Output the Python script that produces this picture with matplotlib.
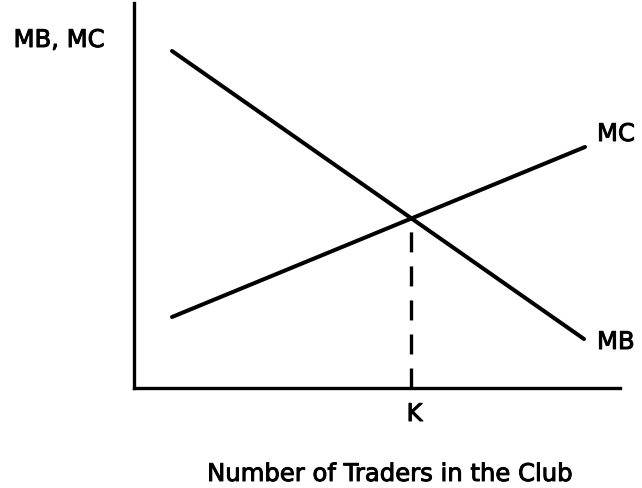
import matplotlib

matplotlib.use('Agg')
import matplotlib.pyplot as plt
import matplotlib.patheffects as pe

# --- data (axis units, origin at the corner of the axes) ---
mb_x = [38, 450]
mb_y = [337, 49]
mc_x = [38, 451]
mc_y = [71, 241]
curve_names = ['MB', 'MC']

W, H = 642, 489
AX_L, AX_R, AX_T, AX_B = 134, 620, 4, 389

plt.rcParams['font.family'] = ['DejaVu Sans']
plt.rcParams['lines.scale_dashes'] = False

fig = plt.figure(figsize=(W / 100, H / 100), dpi=100)
ax = fig.add_axes([AX_L / W, 1 - AX_B / H, (AX_R - AX_L) / W, (AX_B - AX_T) / H])
ax.set_xlim(0, AX_R - AX_L)
ax.set_ylim(0, AX_B - AX_T)

ax.plot(mb_x, mb_y, color='black', linewidth=2.9, solid_capstyle='round', clip_on=False)
ax.plot(mc_x, mc_y, color='black', linewidth=2.9, solid_capstyle='round', clip_on=False)

# intersection of the two straight lines -> K
s_mb = (mb_y[1] - mb_y[0]) / (mb_x[1] - mb_x[0])
s_mc = (mc_y[1] - mc_y[0]) / (mc_x[1] - mc_x[0])
xk = (mc_y[0] - mb_y[0] + s_mb * mb_x[0] - s_mc * mc_x[0]) / (s_mb - s_mc)
yk = mb_y[0] + s_mb * (xk - mb_x[0])
ax.plot([xk, xk], [0, yk - 11], color='black', linewidth=2.4,
        dashes=(14.4, 10.1), dash_capstyle='butt', clip_on=False)

for side in ['top', 'right']:
    ax.spines[side].set_visible(False)
for side in ['left', 'bottom']:
    ax.spines[side].set_linewidth(2.4)
    ax.spines[side].set_color('black')
ax.set_xticks([])
ax.set_yticks([])

heavy = [pe.withStroke(linewidth=0.7, foreground='black')]


def px_text(x, y, s, ha='left'):
    fig.text(x / W, 1 - y / H, s, ha=ha, va='baseline', fontsize=17.5,
             color='black', path_effects=heavy)


px_text(59, 48, 'MB, MC', ha='center')
px_text(597, 142, curve_names[1])
px_text(597, 350, curve_names[0])
px_text(AX_L + xk + 3, 422, 'K', ha='center')
px_text(390, 482, 'Number of Traders in the Club', ha='center')

fig.savefig('out.png', dpi=100)
